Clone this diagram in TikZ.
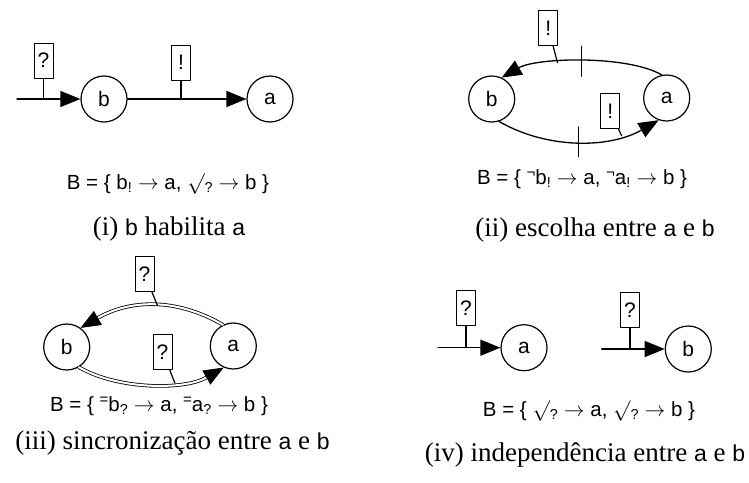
\documentclass[tikz,border=0pt]{standalone}
\usepackage{fontspec}
\setmainfont{Liberation Serif}
\setsansfont{Liberation Sans}
\usetikzlibrary{arrows.meta}

\newcommand{\ltr}[1]{{\sffamily\fontsize{23}{25}\selectfont #1}}
\newcommand{\pre}[1]{\raisebox{7pt}{\fontsize{15}{15}\selectfont #1}}

\begin{document}
\begin{tikzpicture}[
  x=1pt, y=-1pt,
  line cap=round,
  line join=round,
  state/.style={draw, circle, minimum size=46pt, inner sep=0pt,
    line width=1.2pt, font=\sffamily\fontsize{21}{24}\selectfont},
  flag/.style={draw, minimum width=19pt, minimum height=35pt, inner sep=0pt,
    line width=1pt, font=\sffamily\fontsize{21}{24}\selectfont},
  edge/.style={line width=1.3pt, -{Triangle[length=20pt,width=16pt]}},
  sync/.style={edge, double, double distance=2pt, line width=0.8pt},
  stem/.style={line width=1.2pt},
  formula/.style={font=\sffamily\fontsize{20.5}{23}\selectfont},
  legend/.style={font=\fontsize{27}{30}\selectfont}
]
  \useasboundingbox (0,0) rectangle (749,482);

  % (i) b habilita a
  \coordinate (i-in) at (17,99);
  \node[state] (i-b) at (104,99) {b};
  \node[state] (i-a) at (270,99) {a};
  \node[flag] (i-q) at (43.5,60.5) {?};
  \node[flag] (i-e) at (181,62.5) {!};
  \draw[edge] (i-in) -- (i-b);
  \draw[edge] (i-b) -- (i-a);
  \draw[stem] (i-q.south) -- (i-q.south |- i-in);
  \draw[stem] (i-e.south) -- (i-e.south |- i-b);
  \node[formula] (i-f) at (168,184)
    {B = \{ b\textsubscript{!} $\rightarrow$ a, $\surd$\textsubscript{?} $\rightarrow$ b \}};
  \node[legend] (i-c) at (169,229) {(i) \ltr{b} habilita \ltr{a}};

  % (ii) escolha entre a e b
  \node[state] (ii-b) at (491.7,99) {b};
  \node[state] (ii-a) at (666.7,98) {a};
  \draw[edge] (ii-a.102) to[out=150,in=30,looseness=0.64]
    coordinate[pos=0.5] (ii-m1) coordinate[pos=0.63] (ii-t1) (ii-b.65);
  \draw[edge] (ii-b.-72) to[out=-30,in=210,looseness=0.9]
    coordinate[pos=0.5] (ii-m2) coordinate[pos=0.76] (ii-t2) (ii-a.250);
  \draw[stem] ([yshift=15pt]ii-m1) -- ([yshift=-15pt]ii-m1);
  \draw[stem] ([yshift=15pt]ii-m2) -- ([yshift=-15pt]ii-m2);
  \node[flag] (ii-e1) at (548.3,28) {!};
  \node[flag] (ii-e2) at (610.3,111) {!};
  \draw[stem] (ii-e1) -- (ii-t1);
  \draw[stem] (ii-e2) -- (ii-t2);
  \node[formula] (ii-f) at (582,179)
    {B = \{ \pre{¬}b\textsubscript{!} $\rightarrow$ a, \pre{¬}a\textsubscript{!} $\rightarrow$ b \}};
  \node[legend] (ii-c) at (595,230) {(ii) escolha entre \ltr{a} e \ltr{b}};

  % (iii) sincronizacao entre a e b
  \node[state] (iii-b) at (66.7,347) {b};
  \node[state] (iii-a) at (233.3,346) {a};
  \draw[sync] (iii-a.116) to[out=150,in=30,looseness=1]
    coordinate[pos=0.46] (iii-t1) (iii-b.54);
  \draw[sync] (iii-b.-59) to[out=-30,in=210,looseness=0.8]
    coordinate[pos=0.65] (iii-t2) (iii-a.246);
  \node[flag] (iii-q1) at (144.5,274) {?};
  \node[flag] (iii-q2) at (162.5,351.8) {?};
  \draw[stem] (iii-q1) -- (iii-t1);
  \draw[stem] (iii-q2) -- (iii-t2);
  \node[formula] (iii-f) at (159,406)
    {B = \{ \pre{=}b\textsubscript{?} $\rightarrow$ a, \pre{=}a\textsubscript{?} $\rightarrow$ b \}};
  \node[legend] (iii-c) at (172.5,443) {(iii) sincronização entre \ltr{a} e \ltr{b}};

  % (iv) independencia entre a e b
  \coordinate (iv-in1) at (438,347.7);
  \coordinate (iv-in2) at (601.7,349);
  \node[state] (iv-a) at (524,347.7) {a};
  \node[state] (iv-b) at (688.3,349) {b};
  \node[flag] (iv-q1) at (466,308) {?};
  \node[flag] (iv-q2) at (630,310) {?};
  \draw[edge] (iv-in1) -- (iv-a);
  \draw[edge] (iv-in2) -- (iv-b);
  \draw[stem] (iv-q1.south) -- (iv-q1.south |- iv-in1);
  \draw[stem] (iv-q2.south) -- (iv-q2.south |- iv-in2);
  \node[formula] (iv-f) at (589,411)
    {B = \{ $\surd$\textsubscript{?} $\rightarrow$ a, $\surd$\textsubscript{?} $\rightarrow$ b \}};
  \node[legend] (iv-c) at (585,455) {(iv) independência entre \ltr{a} e \ltr{b}};
\end{tikzpicture}
\end{document}
